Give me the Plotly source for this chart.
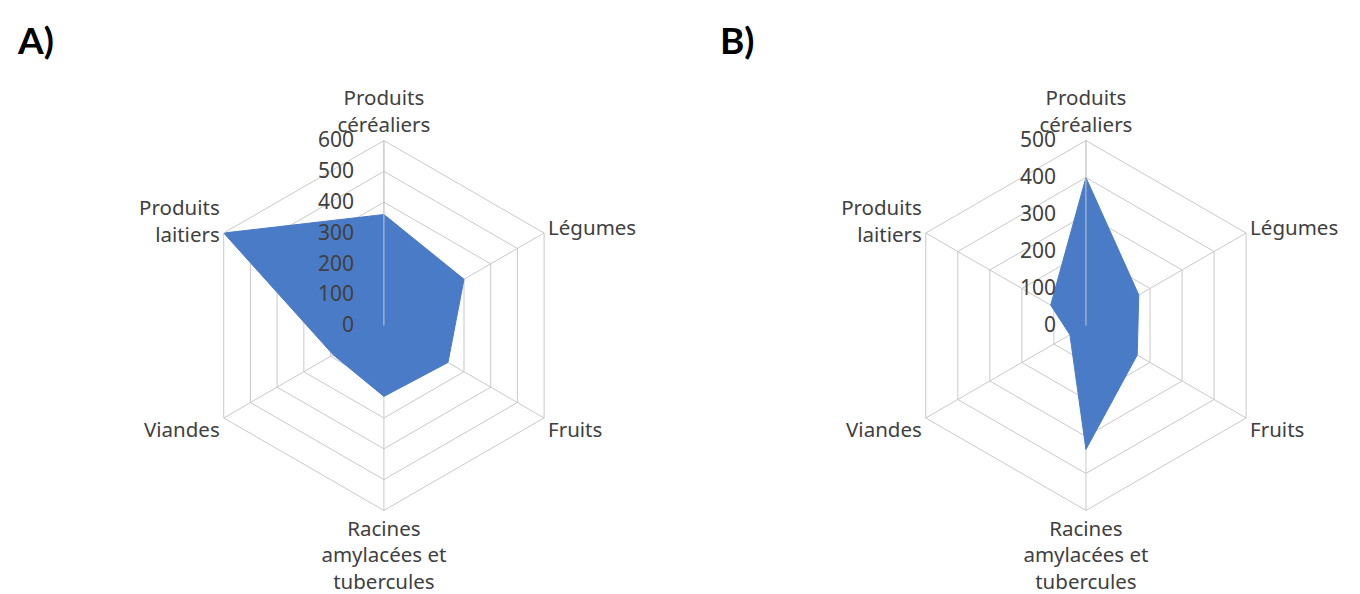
import plotly.graph_objects as go

# categories, clockwise from the top
categories = ["Produits<br>céréaliers", "Légumes", "Fruits",
              "Racines<br>amylacées et<br>tubercules", "Viandes", "Produits<br>laitiers"]

# values
values_a = [360, 300, 240, 230, 190, 600]
values_b = [400, 165, 160, 335, 50, 110]

ticks_a = [0, 100, 200, 300, 400, 500, 600]
ticks_b = [0, 100, 200, 300, 400, 500]

blue = "#4A7BC6"
grey = "#C9C9C9"
txt = "#404040"

fig = go.Figure()
fig.add_trace(go.Scatterpolar(r=values_a + values_a[:1], theta=categories + categories[:1],
                              subplot="polar", mode="lines", fill="toself",
                              fillcolor=blue, line=dict(color=blue, width=1)))
fig.add_trace(go.Scatterpolar(r=values_b + values_b[:1], theta=categories + categories[:1],
                              subplot="polar2", mode="lines", fill="toself",
                              fillcolor=blue, line=dict(color=blue, width=1)))


def polar_layout(xdom, ticks):
    return dict(
        domain=dict(x=xdom, y=[0.1535, 0.7775]),
        gridshape="linear",
        bgcolor="white",
        angularaxis=dict(direction="clockwise", rotation=90, categoryorder="array",
                         categoryarray=categories, showline=True, linecolor=grey,
                         gridcolor=grey, ticks="", ticklen=0,
                         tickfont=dict(size=20.5, color=txt, family="Noto Sans")),
        radialaxis=dict(range=[0, ticks[-1]], tickvals=ticks, angle=90, tickangle=90,
                        showline=True, linecolor=grey, gridcolor=grey, ticks="outside",
                        ticklen=22, tickcolor="rgba(0,0,0,0)", side="counterclockwise",
                        tickfont=dict(size=21, color=txt, family="Noto Sans"),
                        layer="above traces"),
    )


fig.update_layout(
    width=1360, height=594,
    margin=dict(l=0, r=0, t=0, b=0),
    paper_bgcolor="white",
    showlegend=False,
    font=dict(family="Noto Sans", color=txt),
    polar=polar_layout([0.1404, 0.4124], ticks_a),
    polar2=polar_layout([0.6566, 0.9286], ticks_b),
)

# panel letters
for lab, xp in [("A)", 27), ("B)", 729)]:
    fig.add_annotation(text="<b>" + lab + "</b>", x=xp / 1360, y=1 - 31 / 594,
                       xref="paper", yref="paper", xanchor="center", yanchor="middle",
                       showarrow=False, font=dict(size=37, color="black", family="Lato"))

fig.write_html("out.html")
